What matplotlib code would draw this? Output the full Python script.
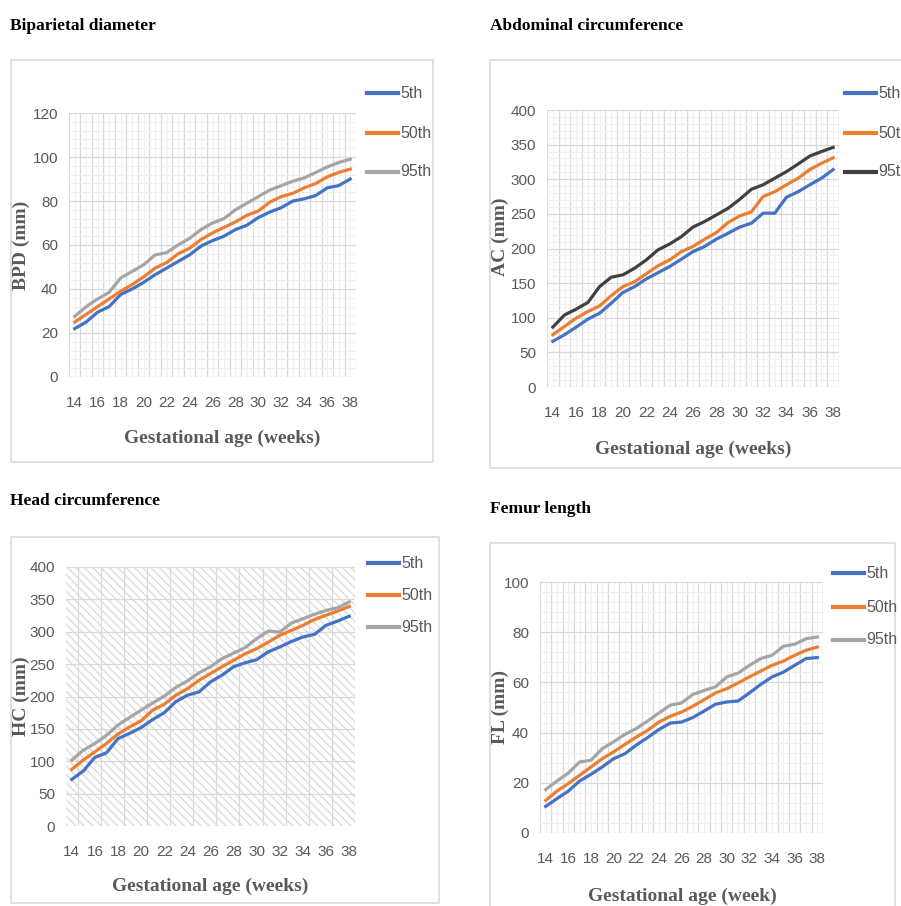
import numpy as np
import matplotlib
matplotlib.use("Agg")
import matplotlib.pyplot as plt
from matplotlib.patches import Rectangle
from matplotlib.lines import Line2D

# gestational age (weeks)
weeks = list(range(14, 39))

bpd_p5 = [22, 25, 29.5, 32, 37.5, 40, 43, 46.5, 49.5, 52.5, 55.5, 59.5, 62, 64, 67, 69, 72.5, 75, 77, 80, 81, 82.5, 86, 87, 90]
bpd_p50 = [25, 28.5, 32, 35.5, 39, 42, 45.5, 49.5, 52, 56, 58.5, 62.5, 65.5, 68, 70.5, 73.5, 75.5, 79.5, 82, 83.5, 86, 88, 91, 93, 94.5]
bpd_p95 = [27.5, 32, 35.5, 38.5, 45, 48, 51, 55.5, 56.5, 60, 63, 67, 70, 72, 76, 79, 82, 85, 87, 89, 90.5, 93, 95.5, 97.5, 99]

ac_p5 = [66, 75.5, 86.5, 98, 106.5, 121, 136.5, 145, 156, 165, 174, 184.5, 195.5, 203, 213.5, 222, 231, 236.5, 251, 251, 274, 282, 292, 301.5, 314]
ac_p50 = [75.5, 87.5, 99.5, 109, 117, 132, 145, 152, 163.5, 175, 183.5, 195.5, 203, 213.5, 223, 237.5, 247, 253, 275, 282, 292, 301.5, 314, 323, 331]
ac_p95 = [86.5, 104, 112.5, 122, 145, 158.5, 162, 171.5, 183.5, 198, 206.5, 217, 231, 239, 248.5, 258, 271, 285.5, 292, 301.5, 311, 322, 333.5, 340, 346]

hc_p5 = [72, 85, 106, 113, 135, 143, 152, 164.5, 175, 192, 202, 207, 222.5, 233, 246, 252, 257, 269, 276.5, 285, 292, 296, 310, 316.5, 324]
hc_p50 = [87.5, 102, 114.5, 127.5, 142, 153, 162.5, 179, 188, 202, 212, 225, 235.5, 246, 256, 266, 274, 284, 294.5, 302, 310, 319, 325.5, 332, 339]
hc_p95 = [102, 117, 127.5, 140, 156, 167.5, 179, 190, 200.5, 214, 224, 236.5, 246, 258.5, 267, 275.5, 289.5, 301, 299.5, 313.5, 320, 327, 333, 337, 346]

fl_p5 = [10.6, 13.7, 16.7, 20.7, 23.4, 26.3, 29.6, 31.6, 35, 38, 41.2, 43.8, 44.2, 46, 48.6, 51.3, 52.2, 52.6, 55.8, 59.2, 62.2, 64.1, 66.8, 69.5, 69.9]
fl_p50 = [13, 16.7, 19.7, 23, 26.3, 29.6, 32.3, 35.3, 38.2, 40.9, 44.2, 46.5, 48.2, 50.5, 53.1, 55.8, 57.5, 59.8, 62.2, 64.5, 66.8, 68.5, 70.8, 72.8, 74.1]
fl_p95 = [17.3, 20.7, 23.9, 28.3, 29, 33.6, 36.3, 39.3, 41.6, 44.6, 47.8, 50.9, 51.8, 55.2, 56.8, 58.2, 62.2, 63.7, 66.8, 69.5, 70.8, 74.4, 75.2, 77.4, 78.1]

labels = ["5th", "50th", "95th"]

BLUE = "#4472C4"
ORANGE = "#ED7D31"
GRAY = "#A5A5A5"
DARK = "#404040"
TXT = "#595959"
MAJ = "#D9D9D9"
MIN = "#EFEFEF"

W, H = 901, 906
fig = plt.figure(figsize=(W / 100, H / 100), dpi=100)

tickfont = ["Liberation Sans Narrow", "Liberation Sans", "DejaVu Sans"]
serif = "Liberation Serif"


def fx(x):
    return x / W


def fy(y):
    return 1 - y / H


def panel(box, rect, title, title_xy, series, colors, ymax, ystep, yminor,
          ylab, ylab_xy, xlab, xlab_xy, leg_x, leg_y, hatch=False):
    # outer frame of the panel
    x0, y0, x1, y1 = box
    fig.add_artist(Rectangle((fx(x0), fy(y1)), (x1 - x0) / W, (y1 - y0) / H,
                             transform=fig.transFigure, fill=False,
                             edgecolor="#DADADA", lw=1.2))
    fig.text(fx(title_xy[0]), fy(title_xy[1]), title, family=serif,
             weight="bold", fontsize=12.5, va="center", ha="left")

    l, t, r, b = rect
    ax = fig.add_axes([fx(l), fy(b), (r - l) / W, (b - t) / H])
    for s in ax.spines.values():
        s.set_visible(False)

    if hatch:
        ax.add_patch(Rectangle((0, 0), 1, 1, transform=ax.transAxes,
                               facecolor="none", edgecolor="#DCDCDC",
                               hatch="\\\\\\\\", lw=0, zorder=0))
        for v in np.arange(14.5, 39, 2):
            ax.axvline(v, color=MAJ, lw=0.9, zorder=0.5)
    else:
        for v in weeks:
            ax.axvline(v, color=MIN, lw=0.7, zorder=0.4)
        for v in np.arange(13.5, 39, 1):
            ax.axvline(v, color=MAJ, lw=0.9, zorder=0.5)

    for y, c in zip(series, colors):
        ax.plot(weeks, y, color=c, lw=2.3, solid_joinstyle="round", zorder=3)

    ax.set_xlim(13.5, 38.5)
    ax.set_ylim(0, ymax)
    ax.set_xticks(weeks[::2])
    ax.set_yticks(np.arange(0, ymax + 1, ystep))
    if yminor:
        ax.set_yticks(np.arange(0, ymax + 1, yminor), minor=True)
        ax.grid(axis="y", which="minor", color=MIN, lw=0.7, zorder=0.4)
    ax.grid(axis="y", which="major", color=MAJ, lw=0.9, zorder=0.5)
    ax.set_axisbelow(True)
    ax.tick_params(axis="both", which="both", length=0, colors=TXT,
                   labelsize=11)
    ax.tick_params(axis="x", pad=14)
    ax.tick_params(axis="y", pad=8)
    for lab in ax.get_xticklabels() + ax.get_yticklabels():
        lab.set_family(tickfont)

    fig.text(fx(ylab_xy[0]), fy(ylab_xy[1]), ylab, family=serif, weight="bold",
             fontsize=14, rotation=90, ha="center", va="center", color=TXT)
    fig.text(fx(xlab_xy[0]), fy(xlab_xy[1]), xlab, family=serif, weight="bold",
             fontsize=14, ha="center", va="center", color=TXT)

    # legend on the right of the plot area
    for lab, c, yy in zip(labels, colors, leg_y):
        fig.add_artist(Line2D([fx(leg_x), fx(leg_x + 31)], [fy(yy), fy(yy)],
                              transform=fig.transFigure, color=c, lw=3))
        fig.text(fx(leg_x + 33), fy(yy), lab, family=tickfont, fontsize=11.5,
                 color=TXT, va="center", ha="left")
    return ax


panel((11, 60, 433, 462), (69, 113, 356, 377), "Biparietal diameter", (10, 26),
      [bpd_p5, bpd_p50, bpd_p95], [BLUE, ORANGE, GRAY], 120, 20, 4,
      "BPD (mm)", (21, 245), "Gestational age (weeks)", (222, 438),
      367, [93, 133, 172])

panel((490, 60, 912, 468), (547, 110, 839, 387), "Abdominal circumference", (490, 26),
      [ac_p5, ac_p50, ac_p95], [BLUE, ORANGE, DARK], 400, 50, 10,
      "AC (mm)", (500, 237), "Gestational age (weeks)", (693, 449),
      845, [93, 133, 172])

panel((11, 537, 439, 903), (66, 567, 355, 826), "Head circumference", (10, 501),
      [hc_p5, hc_p50, hc_p95], [BLUE, ORANGE, GRAY], 400, 50, None,
      "HC (mm)", (21, 696), "Gestational age (weeks)", (210, 886),
      368, [563, 595, 627], hatch=True)

panel((490, 543, 895, 915), (540, 582, 823, 833), "Femur length", (490, 509),
      [fl_p5, fl_p50, fl_p95], [BLUE, ORANGE, GRAY], 100, 20, 4,
      "FL (mm)", (500, 707), "Gestational age (week)", (682, 896),
      833, [573, 607, 640])

fig.savefig("out.png", dpi=100)
